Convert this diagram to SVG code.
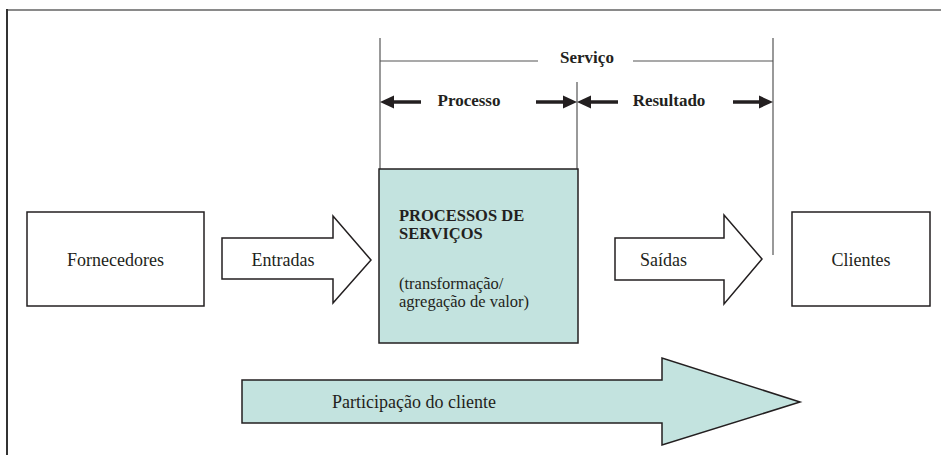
<svg xmlns="http://www.w3.org/2000/svg" width="941" height="455" viewBox="0 0 941 455">
<style>
  text { font-family: "Liberation Serif", "DejaVu Serif", "Noto Serif", serif; fill: #231f20; }
  .b { font-weight: bold; }
  .box { fill: #ffffff; stroke: #231f20; stroke-width: 1.5; }
  .teal { fill: #c3e3df; stroke: #231f20; stroke-width: 1.5; }
  .gl { stroke: #555555; stroke-width: 1.2; fill: none; }
  .dim { stroke: #231f20; stroke-width: 3.5; fill: none; }
  .head { fill: #231f20; }
</style>
<rect x="0" y="0" width="941" height="455" fill="#ffffff"/>
<g id="frame">
  <line x1="7" y1="10" x2="941" y2="10" stroke="#8a8a8a" stroke-width="2"/>
  <line x1="7" y1="9" x2="7" y2="455" stroke="#333333" stroke-width="2"/>
</g>
<g id="connectors">
  <line class="gl" x1="380" y1="38" x2="380" y2="169"/>
  <line class="gl" x1="577" y1="82" x2="577" y2="169"/>
  <line class="gl" x1="773" y1="38" x2="773" y2="255"/>
  <line class="gl" x1="380" y1="61" x2="538" y2="61"/>
  <line class="gl" x1="633" y1="61" x2="773" y2="61"/>
  <line class="dim" x1="392" y1="102" x2="421" y2="102"/>
  <polygon class="head" points="380,102 394,95.5 394,108.5"/>
  <line class="dim" x1="536" y1="102" x2="565" y2="102"/>
  <polygon class="head" points="577,102 563,95.5 563,108.5"/>
  <line class="dim" x1="589" y1="102" x2="618" y2="102"/>
  <polygon class="head" points="577,102 591,95.5 591,108.5"/>
  <line class="dim" x1="733" y1="102" x2="761" y2="102"/>
  <polygon class="head" points="773,102 759,95.5 759,108.5"/>
</g>
<g id="servico-label">
  <text class="b" x="587" y="63" font-size="17" text-anchor="middle" font-family="Liberation Serif, DejaVu Serif, serif">Serviço</text>
</g>
<g id="processo-label">
  <text class="b" x="469" y="106" font-size="17" text-anchor="middle" font-family="Liberation Serif, DejaVu Serif, serif">Processo</text>
</g>
<g id="resultado-label">
  <text class="b" x="669" y="106" font-size="17" text-anchor="middle" font-family="Liberation Serif, DejaVu Serif, serif">Resultado</text>
</g>
<g id="fornecedores">
  <rect class="box" x="27" y="212" width="177" height="94"/>
  <text x="115.5" y="266" font-size="18" text-anchor="middle" font-family="Liberation Serif, DejaVu Serif, serif">Fornecedores</text>
</g>
<g id="entradas">
  <polygon class="box" points="222,238 333,238 333,216 371,260 333,303 333,279 222,279"/>
  <text x="283" y="266" font-size="18" text-anchor="middle" font-family="Liberation Serif, DejaVu Serif, serif">Entradas</text>
</g>
<g id="processos">
  <rect class="teal" x="379" y="169" width="199" height="174"/>
  <text class="b" x="399" y="221" font-size="16.5" font-family="Liberation Serif, DejaVu Serif, serif">PROCESSOS DE</text>
  <text class="b" x="399" y="239" font-size="16.5" font-family="Liberation Serif, DejaVu Serif, serif">SERVIÇOS</text>
  <text x="399" y="289" font-size="16.5" font-family="Liberation Serif, DejaVu Serif, serif">(transformação/</text>
  <text x="399" y="307" font-size="16.5" font-family="Liberation Serif, DejaVu Serif, serif">agregação de valor)</text>
</g>
<g id="saidas">
  <polygon class="box" points="615,238 724,238 724,215 762,259 724,304 724,280 615,280"/>
  <text x="663.5" y="266" font-size="18" text-anchor="middle" font-family="Liberation Serif, DejaVu Serif, serif">Saídas</text>
</g>
<g id="clientes">
  <rect class="box" x="792" y="212" width="138" height="94"/>
  <text x="861" y="266" font-size="18" text-anchor="middle" font-family="Liberation Serif, DejaVu Serif, serif">Clientes</text>
</g>
<g id="participacao">
  <polygon class="teal" points="242,380 662,380 662,358 800,402 662,445 662,423 242,423"/>
  <text x="332" y="408" font-size="18" font-family="Liberation Serif, DejaVu Serif, serif">Participação do cliente</text>
</g>
</svg>
